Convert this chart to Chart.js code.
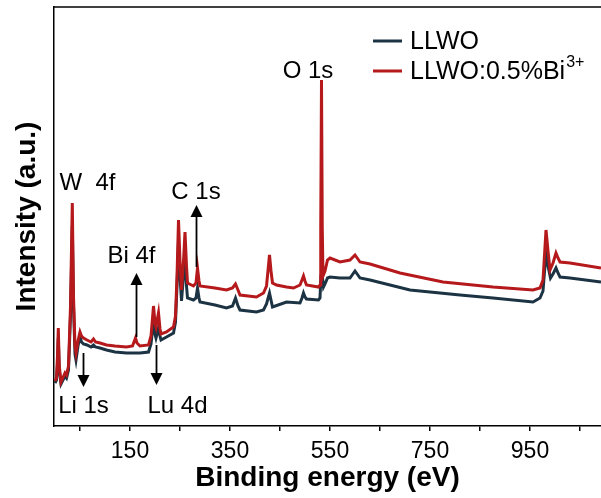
<!DOCTYPE html>
<html>
<head>
<meta charset="utf-8">
<script src="https://cdn.jsdelivr.net/npm/chart.js@4.4.0/dist/chart.umd.min.js"></script>
<style>
    html, body { margin: 0; padding: 0; background: #fff; }
    #wrap { width: 601px; height: 498px; }
</style>
</head>
<body>
<div id="wrap"><canvas id="xpsChart"></canvas></div>
<script>
// XPS survey spectra, binding energy (eV) vs intensity (a.u.)

// LLWO:0.5%Bi3+ (red)
const energyBi = [0, 3, 5, 6.6, 8.5, 12, 20, 23, 27, 31, 34.6, 37, 40, 42, 46, 50, 53, 57, 64, 72, 77, 81, 90, 103, 120, 143,
    155, 158, 161, 164, 170, 187, 192, 197, 200, 202, 207, 210, 212, 223, 237, 241, 244, 247, 250, 253, 257, 260, 263, 265,
    277, 282, 285, 288, 290, 320, 343, 355, 361, 366, 370, 403, 417, 423, 429, 432, 435, 443, 463, 477, 490, 494, 497, 500,
    503, 527, 530, 531.5, 533, 534.5, 536, 540, 545, 550, 570, 590, 600, 610, 630, 690, 776, 876, 956, 970, 976, 982, 986,
    990, 996, 1002, 1006, 1010, 1030, 1092];
const intensityBi = [45, 48, 70, 98, 60, 44, 53, 51, 60, 120, 223, 130, 80, 73, 85, 94, 90, 88, 86, 84, 87, 84, 83, 81, 80, 79,
    80, 84, 88, 83, 80, 81, 90, 120, 103, 99, 113, 97, 92, 94, 99, 110, 150, 206, 165, 136, 165, 194, 160, 143,
    140, 143, 158, 145, 140, 138, 136, 138, 142, 136, 131, 129, 133, 140, 171, 155, 143, 141, 139, 138, 141, 146, 150, 145,
    141, 139, 141, 200, 346, 200, 150, 155, 166, 168, 164, 166, 171, 164, 162, 153, 144, 139, 136, 138, 146, 196, 175,
    156, 163, 173, 168, 164, 163, 158];

// LLWO (navy)
const energyLLWO = [0, 3, 5, 6.6, 8.5, 12, 20, 23, 27, 31, 34.6, 37, 40, 42, 46, 50, 53, 57, 64, 72, 77, 81, 90, 103, 120, 143,
    170, 187, 192, 197, 200, 202, 207, 210, 212, 223, 237, 241, 244, 247, 250, 253, 257, 260, 263, 265, 277, 282, 285, 288,
    290, 320, 343, 355, 361, 366, 370, 403, 417, 423, 429, 432, 435, 463, 490, 494, 497, 500, 503, 527, 530, 532, 533, 534.5,
    537, 540, 545, 550, 570, 590, 600, 610, 630, 710, 810, 876, 956, 970, 976, 982, 986, 991, 996, 1002, 1006, 1010, 1030, 1092];
const intensityLLWO = [43, 46, 62, 88, 56, 42, 50, 48, 56, 110, 200, 120, 72, 66, 80, 89, 84, 82, 81, 79, 81, 79, 78, 76, 74, 73,
    73, 74, 82, 105, 92, 88, 98, 90, 86, 89, 93, 104, 140, 185, 150, 125, 150, 175, 140, 128, 126, 128, 138, 128,
    124, 121, 118, 120, 128, 120, 116, 114, 116, 122, 133, 126, 119, 124, 123, 128, 133, 129, 127, 126, 128, 150, 175, 150,
    139, 142, 148, 149, 148, 148, 155, 148, 146, 136, 131, 128, 124, 128, 135, 173, 160, 148, 152, 158, 153, 149, 148, 144];

const seriesNames = ['LLWO', 'LLWO:0.5%Bi'];
const tickValues = [50, 150, 250, 350, 450, 550, 650, 750, 850, 950, 1050];
const tickLabels = ['150', '350', '550', '750', '950'];

// peak assignments: label text, where the label sits and where its arrow points (data units)
const peakNotes = [
    { text: 'W  4f', e: 65, i: 236 },
    { text: 'O 1s', e: 506, i: 348 },
    { text: 'C 1s', e: 282, i: 227, arrow: [283, 159, 221] },
    { text: 'Bi 4f', e: 153, i: 163, arrow: [163, 89, 153] },
    { text: 'Li 1s', e: 57, i: 13, arrow: [57, 73, 39] },
    { text: 'Lu 4d', e: 245, i: 13, arrow: [203, 81, 41] }
];

const RED = '#b5191b';
const NAVY = '#1c3343';
const FONT = "'Liberation Sans', Arial, sans-serif";

function toPoints(xs, ys) {
    return xs.map((x, k) => ({ x: x, y: ys[k] }));
}

// draws the frame top line, peak labels with arrows and the legend
const decorations = {
    id: 'decorations',
    afterDatasetsDraw(chart) {
        const { ctx, chartArea, scales } = chart;
        const xs = scales.x, ys = scales.y;

        ctx.save();
        ctx.strokeStyle = '#000';
        ctx.lineWidth = 1.5;
        ctx.beginPath();
        ctx.moveTo(chartArea.left, chartArea.top);
        ctx.lineTo(chartArea.right, chartArea.top);
        ctx.stroke();

        ctx.fillStyle = '#000';
        ctx.font = '24px ' + FONT;
        ctx.textAlign = 'center';
        ctx.textBaseline = 'alphabetic';
        peakNotes.forEach(note => {
            ctx.fillText(note.text, xs.getPixelForValue(note.e), ys.getPixelForValue(note.i));
            if (!note.arrow) return;
            const ax = xs.getPixelForValue(note.arrow[0]);
            const y0 = ys.getPixelForValue(note.arrow[1]);
            const y1 = ys.getPixelForValue(note.arrow[2]);
            const dir = y1 < y0 ? 1 : -1;
            ctx.lineWidth = 1.8;
            ctx.beginPath();
            ctx.moveTo(ax, y0);
            ctx.lineTo(ax, y1 + dir * 8);
            ctx.stroke();
            ctx.beginPath();
            ctx.moveTo(ax, y1);
            ctx.lineTo(ax - 6, y1 + dir * 12);
            ctx.lineTo(ax + 6, y1 + dir * 12);
            ctx.closePath();
            ctx.fill();
        });

        // legend
        const lx = 373, rows = [41, 71], colors = [NAVY, RED];
        ctx.textAlign = 'left';
        ctx.textBaseline = 'middle';
        rows.forEach((ry, k) => {
            ctx.strokeStyle = colors[k];
            ctx.lineWidth = 3;
            ctx.beginPath();
            ctx.moveTo(lx, ry);
            ctx.lineTo(lx + 29, ry);
            ctx.stroke();
            ctx.fillStyle = '#000';
            ctx.font = '25px ' + FONT;
            ctx.fillText(seriesNames[k], lx + 37, ry + 1);
            if (k === 1) {
                const w = ctx.measureText(seriesNames[k]).width;
                ctx.font = '16px ' + FONT;
                ctx.fillText('3+', lx + 37 + w + 1, ry - 8);
            }
        });
        ctx.restore();
    }
};

new Chart(document.getElementById('xpsChart'), {
    type: 'line',
    data: {
        datasets: [
            {
                label: seriesNames[1],
                data: toPoints(energyBi, intensityBi),
                borderColor: RED,
                borderWidth: 3,
                pointRadius: 0,
                tension: 0
            },
            {
                label: seriesNames[0],
                data: toPoints(energyLLWO, intensityLLWO),
                borderColor: NAVY,
                borderWidth: 3,
                pointRadius: 0,
                tension: 0
            }
        ]
    },
    options: {
        responsive: true,
        maintainAspectRatio: false,
        animation: false,
        layout: { padding: { top: 7, right: 0, left: 0, bottom: 0 } },
        plugins: {
            legend: { display: false },
            tooltip: { enabled: false }
        },
        scales: {
            x: {
                type: 'linear',
                min: -2,
                max: 1092,
                afterFit: axis => { axis.height = 72; },
                afterBuildTicks: axis => { axis.ticks = tickValues.map(v => ({ value: v })); },
                grid: { drawOnChartArea: false, drawTicks: true, tickLength: 5, color: '#000', lineWidth: 1.5 },
                border: { color: '#000', width: 1.5 },
                ticks: {
                    autoSkip: false,
                    maxRotation: 0,
                    padding: 7,
                    color: '#000',
                    font: { family: FONT, size: 23 },
                    callback: v => tickLabels.includes(String(v)) ? String(v) : ''
                },
                title: {
                    display: true,
                    text: 'Binding energy (eV)',
                    color: '#000',
                    font: { family: FONT, size: 28, weight: 'bold' },
                    padding: { top: 0, bottom: 3 }
                }
            },
            y: {
                min: 0,
                max: 419,
                afterFit: axis => { axis.width = 54; },
                grid: { display: false },
                border: { color: '#000', width: 1.5 },
                ticks: { display: false },
                title: {
                    display: true,
                    text: 'Intensity (a.u.)',
                    color: '#000',
                    font: { family: FONT, size: 28, weight: 'bold' },
                    padding: { top: 10, bottom: 0 }
                }
            }
        }
    },
    plugins: [decorations]
});
</script>
</body>
</html>
